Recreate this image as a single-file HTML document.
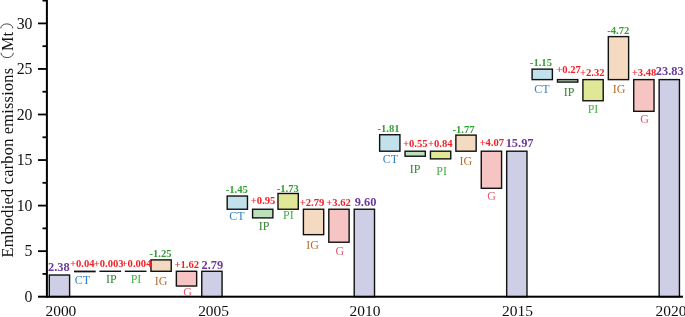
<!DOCTYPE html><html><head><meta charset="utf-8"><style>html,body{margin:0;padding:0;background:#fff;overflow:hidden;}svg{display:block;will-change:transform;}text{font-family:"Liberation Serif",serif;}</style></head><body>
<svg width="685" height="317" viewBox="0 0 685 317">
<rect x="49.30" y="275.02" width="20.30" height="21.68" fill="#CECEE6" stroke="#111" stroke-width="1.4"/>
<rect x="201.76" y="271.28" width="20.30" height="25.42" fill="#CECEE6" stroke="#111" stroke-width="1.4"/>
<rect x="354.22" y="209.24" width="20.30" height="87.46" fill="#CECEE6" stroke="#111" stroke-width="1.4"/>
<rect x="506.68" y="151.21" width="20.30" height="145.49" fill="#CECEE6" stroke="#111" stroke-width="1.4"/>
<rect x="659.14" y="79.61" width="20.30" height="217.09" fill="#CECEE6" stroke="#111" stroke-width="1.4"/>
<rect x="74.71" y="271.28" width="20.30" height="0.36" fill="#C1E1EB" stroke="#111" stroke-width="1.4"/>
<rect x="100.12" y="271.28" width="20.30" height="0.03" fill="#BCE0BC" stroke="#111" stroke-width="1.4"/>
<rect x="125.53" y="271.28" width="20.30" height="0.04" fill="#E0E898" stroke="#111" stroke-width="1.4"/>
<rect x="150.94" y="259.90" width="20.30" height="11.39" fill="#F3DAC0" stroke="#111" stroke-width="1.4"/>
<rect x="176.35" y="271.28" width="20.30" height="14.76" fill="#F6C4C2" stroke="#111" stroke-width="1.4"/>
<rect x="227.17" y="196.03" width="20.30" height="13.21" fill="#C1E1EB" stroke="#111" stroke-width="1.4"/>
<rect x="252.58" y="209.24" width="20.30" height="8.65" fill="#BCE0BC" stroke="#111" stroke-width="1.4"/>
<rect x="277.99" y="193.48" width="20.30" height="15.76" fill="#E0E898" stroke="#111" stroke-width="1.4"/>
<rect x="303.40" y="209.24" width="20.30" height="25.42" fill="#F3DAC0" stroke="#111" stroke-width="1.4"/>
<rect x="328.81" y="209.24" width="20.30" height="32.98" fill="#F6C4C2" stroke="#111" stroke-width="1.4"/>
<rect x="379.63" y="134.72" width="20.30" height="16.49" fill="#C1E1EB" stroke="#111" stroke-width="1.4"/>
<rect x="405.04" y="151.21" width="20.30" height="5.01" fill="#BCE0BC" stroke="#111" stroke-width="1.4"/>
<rect x="430.45" y="151.21" width="20.30" height="7.65" fill="#E0E898" stroke="#111" stroke-width="1.4"/>
<rect x="455.86" y="135.09" width="20.30" height="16.12" fill="#F3DAC0" stroke="#111" stroke-width="1.4"/>
<rect x="481.27" y="151.21" width="20.30" height="37.08" fill="#F6C4C2" stroke="#111" stroke-width="1.4"/>
<rect x="532.09" y="69.13" width="20.30" height="10.48" fill="#C1E1EB" stroke="#111" stroke-width="1.4"/>
<rect x="557.50" y="79.61" width="20.30" height="2.46" fill="#BCE0BC" stroke="#111" stroke-width="1.4"/>
<rect x="582.91" y="79.61" width="20.30" height="21.14" fill="#E0E898" stroke="#111" stroke-width="1.4"/>
<rect x="608.32" y="36.61" width="20.30" height="43.00" fill="#F3DAC0" stroke="#111" stroke-width="1.4"/>
<rect x="633.73" y="79.61" width="20.30" height="31.70" fill="#F6C4C2" stroke="#111" stroke-width="1.4"/>
<rect x="45.9" y="0" width="2" height="297.7" fill="#000"/>
<rect x="38" y="295.7" width="645" height="2" fill="#000"/>
<rect x="38" y="250.25" width="9" height="1.8" fill="#000"/>
<rect x="38" y="204.70" width="9" height="1.8" fill="#000"/>
<rect x="38" y="159.15" width="9" height="1.8" fill="#000"/>
<rect x="38" y="113.60" width="9" height="1.8" fill="#000"/>
<rect x="38" y="68.05" width="9" height="1.8" fill="#000"/>
<rect x="38" y="22.50" width="9" height="1.8" fill="#000"/>
<rect x="42.5" y="273.03" width="4" height="1.8" fill="#000"/>
<rect x="42.5" y="227.47" width="4" height="1.8" fill="#000"/>
<rect x="42.5" y="181.92" width="4" height="1.8" fill="#000"/>
<rect x="42.5" y="136.38" width="4" height="1.8" fill="#000"/>
<rect x="42.5" y="90.82" width="4" height="1.8" fill="#000"/>
<rect x="42.5" y="45.28" width="4" height="1.8" fill="#000"/>
<rect x="42.5" y="-0.28" width="4" height="1.8" fill="#000"/>
<text x="32.45" y="302.00" font-size="15.8" text-anchor="end" fill="#111">0</text>
<text x="32.45" y="256.45" font-size="15.8" text-anchor="end" fill="#111">5</text>
<text x="32.45" y="210.90" font-size="15.8" text-anchor="end" fill="#111">10</text>
<text x="32.45" y="165.35" font-size="15.8" text-anchor="end" fill="#111">15</text>
<text x="32.45" y="119.80" font-size="15.8" text-anchor="end" fill="#111">20</text>
<text x="32.45" y="74.25" font-size="15.8" text-anchor="end" fill="#111">25</text>
<text x="32.45" y="28.70" font-size="15.8" text-anchor="end" fill="#111">30</text>
<text x="60.9" y="315.7" font-size="15.6" text-anchor="middle" textLength="30.9" lengthAdjust="spacingAndGlyphs" fill="#111">2000</text>
<text x="213.6" y="315.7" font-size="15.6" text-anchor="middle" textLength="30.9" lengthAdjust="spacingAndGlyphs" fill="#111">2005</text>
<text x="365.0" y="315.7" font-size="15.6" text-anchor="middle" textLength="30.9" lengthAdjust="spacingAndGlyphs" fill="#111">2010</text>
<text x="517.5" y="315.7" font-size="15.6" text-anchor="middle" textLength="30.9" lengthAdjust="spacingAndGlyphs" fill="#111">2015</text>
<text x="671.0" y="315.7" font-size="15.6" text-anchor="middle" textLength="30.9" lengthAdjust="spacingAndGlyphs" fill="#111">2020</text>
<text transform="translate(12.9,257.5) rotate(-90)" x="0" y="0" font-size="16.3" fill="#111" textLength="189.6" lengthAdjust="spacing">Embodied carbon emissions</text>
<text transform="translate(12.9,50.9) rotate(-90)" x="0" y="0" font-size="16.3" fill="#111">Mt</text>
<path d="M1.0,52.8 C1.0,59.2 13.3,59.2 13.3,52.8" fill="none" stroke="#333" stroke-width="0.9"/>
<path d="M0.8,28.4 C0.8,22.4 12.8,22.4 12.8,28.4" fill="none" stroke="#333" stroke-width="0.9"/>
<text x="82.2" y="267.4" font-size="10.6" font-weight="bold" text-anchor="middle" fill="#F51E23">+0.04</text>
<text x="82.5" y="283.5" font-size="12" text-anchor="middle" fill="#3282C3">CT</text>
<text x="108.6" y="267.1" font-size="10.6" font-weight="bold" text-anchor="middle" fill="#F51E23">+0.003</text>
<text x="111.3" y="282.9" font-size="12" text-anchor="middle" fill="#338233">IP</text>
<text x="136.5" y="267.1" font-size="10.6" font-weight="bold" text-anchor="middle" fill="#F51E23">+0.004</text>
<text x="136.0" y="282.9" font-size="12" text-anchor="middle" fill="#46AF46">PI</text>
<text x="160.6" y="256.8" font-size="10.6" font-weight="bold" text-anchor="middle" fill="#32A032">-1.25</text>
<text x="161.1" y="284.7" font-size="12" text-anchor="middle" fill="#B96E28">IG</text>
<text x="186.7" y="267.6" font-size="10.6" font-weight="bold" text-anchor="middle" fill="#F51E23">+1.62</text>
<text x="187.5" y="296.2" font-size="12" text-anchor="middle" fill="#E25A72">G</text>
<text x="236.7" y="193.0" font-size="10.6" font-weight="bold" text-anchor="middle" fill="#32A032">-1.45</text>
<text x="237.0" y="219.6" font-size="12" text-anchor="middle" fill="#3282C3">CT</text>
<text x="263.1" y="203.8" font-size="10.6" font-weight="bold" text-anchor="middle" fill="#F51E23">+0.95</text>
<text x="264.2" y="229.5" font-size="12" text-anchor="middle" fill="#338233">IP</text>
<text x="287.8" y="191.8" font-size="10.6" font-weight="bold" text-anchor="middle" fill="#32A032">-1.73</text>
<text x="288.4" y="219.0" font-size="12" text-anchor="middle" fill="#46AF46">PI</text>
<text x="312.0" y="206.4" font-size="10.6" font-weight="bold" text-anchor="middle" fill="#F51E23">+2.79</text>
<text x="312.7" y="249.0" font-size="12" text-anchor="middle" fill="#B96E28">IG</text>
<text x="338.6" y="206.0" font-size="10.6" font-weight="bold" text-anchor="middle" fill="#F51E23">+3.62</text>
<text x="339.9" y="254.6" font-size="12" text-anchor="middle" fill="#E25A72">G</text>
<text x="388.5" y="131.7" font-size="10.6" font-weight="bold" text-anchor="middle" fill="#32A032">-1.81</text>
<text x="390.4" y="162.5" font-size="12" text-anchor="middle" fill="#3282C3">CT</text>
<text x="415.2" y="147.4" font-size="10.6" font-weight="bold" text-anchor="middle" fill="#F51E23">+0.55</text>
<text x="415.1" y="172.6" font-size="12" text-anchor="middle" fill="#338233">IP</text>
<text x="440.2" y="147.4" font-size="10.6" font-weight="bold" text-anchor="middle" fill="#F51E23">+0.84</text>
<text x="441.6" y="174.5" font-size="12" text-anchor="middle" fill="#46AF46">PI</text>
<text x="463.5" y="133.2" font-size="10.6" font-weight="bold" text-anchor="middle" fill="#32A032">-1.77</text>
<text x="465.8" y="164.7" font-size="12" text-anchor="middle" fill="#B96E28">IG</text>
<text x="491.7" y="146.1" font-size="10.6" font-weight="bold" text-anchor="middle" fill="#F51E23">+4.07</text>
<text x="491.6" y="200.0" font-size="12" text-anchor="middle" fill="#E25A72">G</text>
<text x="540.9" y="65.7" font-size="10.6" font-weight="bold" text-anchor="middle" fill="#32A032">-1.15</text>
<text x="542.0" y="93.1" font-size="12" text-anchor="middle" fill="#3282C3">CT</text>
<text x="568.6" y="72.5" font-size="10.6" font-weight="bold" text-anchor="middle" fill="#F51E23">+0.27</text>
<text x="569.1" y="95.6" font-size="12" text-anchor="middle" fill="#338233">IP</text>
<text x="592.3" y="76.1" font-size="10.6" font-weight="bold" text-anchor="middle" fill="#F51E23">+2.32</text>
<text x="593.0" y="112.7" font-size="12" text-anchor="middle" fill="#46AF46">PI</text>
<text x="618.3" y="33.8" font-size="10.6" font-weight="bold" text-anchor="middle" fill="#32A032">-4.72</text>
<text x="619.1" y="92.8" font-size="12" text-anchor="middle" fill="#B96E28">IG</text>
<text x="644.1" y="76.4" font-size="10.6" font-weight="bold" text-anchor="middle" fill="#F51E23">+3.48</text>
<text x="644.5" y="123.0" font-size="12" text-anchor="middle" fill="#E25A72">G</text>
<text x="58.8" y="270.5" font-size="12.4" font-weight="bold" text-anchor="middle" fill="#6A3A9E">2.38</text>
<text x="212.4" y="269.0" font-size="12.4" font-weight="bold" text-anchor="middle" fill="#6A3A9E">2.79</text>
<text x="365.5" y="205.8" font-size="12.4" font-weight="bold" text-anchor="middle" fill="#6A3A9E">9.60</text>
<text x="519.6" y="147.1" font-size="12.4" font-weight="bold" text-anchor="middle" fill="#6A3A9E">15.97</text>
<text x="669.7" y="74.8" font-size="12.4" font-weight="bold" text-anchor="middle" fill="#6A3A9E">23.83</text>
</svg></body></html>
